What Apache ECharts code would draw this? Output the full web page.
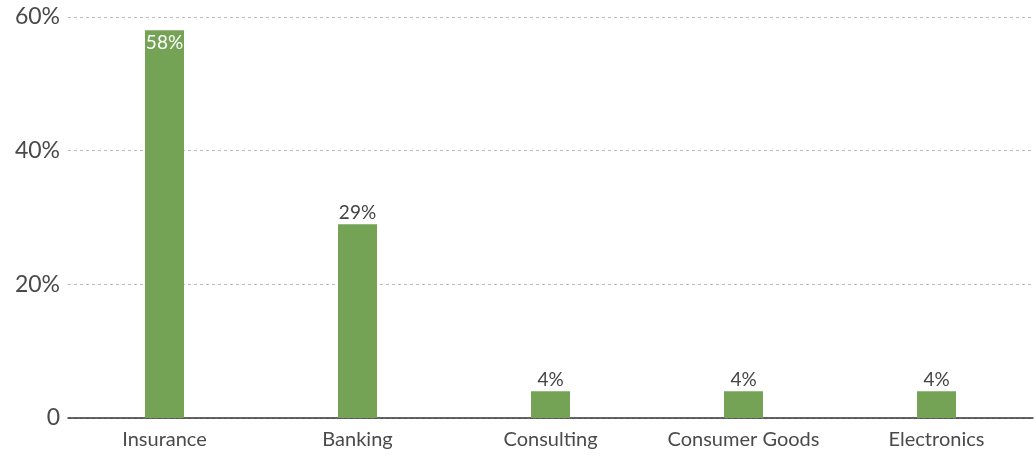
<!DOCTYPE html>
<html><head><meta charset="utf-8">
<script src="https://cdn.jsdelivr.net/npm/echarts@6/dist/echarts.min.js"></script>
<style>html,body{margin:0;padding:0;background:#fff}#c{width:1036px;height:457px}</style>
</head><body><div id="c"></div>
<script>
const categories = ['Insurance','Banking','Consulting','Consumer Goods','Electronics'];
const values = [58, 29, 4, 4, 4];
const yTicks = [0, 20, 40, 60];
const font = 'Lato, "Open Sans", sans-serif';
const chart = echarts.init(document.getElementById('c'));
chart.setOption({
  animation: false,
  grid: {left: 68, right: 3, top: 17, bottom: 39, containLabel: false},
  xAxis: {
    type: 'category', data: categories,
    axisLine: {lineStyle: {color: '#333', width: 1.5}},
    axisTick: {show: false},
    axisLabel: {color: '#4a4a4a', fontSize: 20, fontFamily: font, margin: 12, interval: 0, hideOverlap: false}
  },
  yAxis: {
    type: 'value', min: 0, max: 60, interval: 20,
    axisLabel: {color: '#4a4a4a', fontSize: 23, fontFamily: font, margin: 8,
      formatter: v => v === 0 ? '0' : v + '%'},
    splitLine: {lineStyle: {type: [3, 3], color: '#bbb'}},
    axisLine: {show: false}, axisTick: {show: false}
  },
  series: [{
    type: 'bar', barWidth: 39,
    data: values.map((v, i) => ({
      value: v,
      label: i === 0 ? {position: 'insideTop', color: '#fff', distance: 3} : {position: 'top', color: '#444', distance: 2}
    })),
    itemStyle: {color: '#74a355'},
    label: {show: true, fontSize: 19, fontFamily: font, formatter: p => p.value + '%'}
  }]
});
</script></body></html>
